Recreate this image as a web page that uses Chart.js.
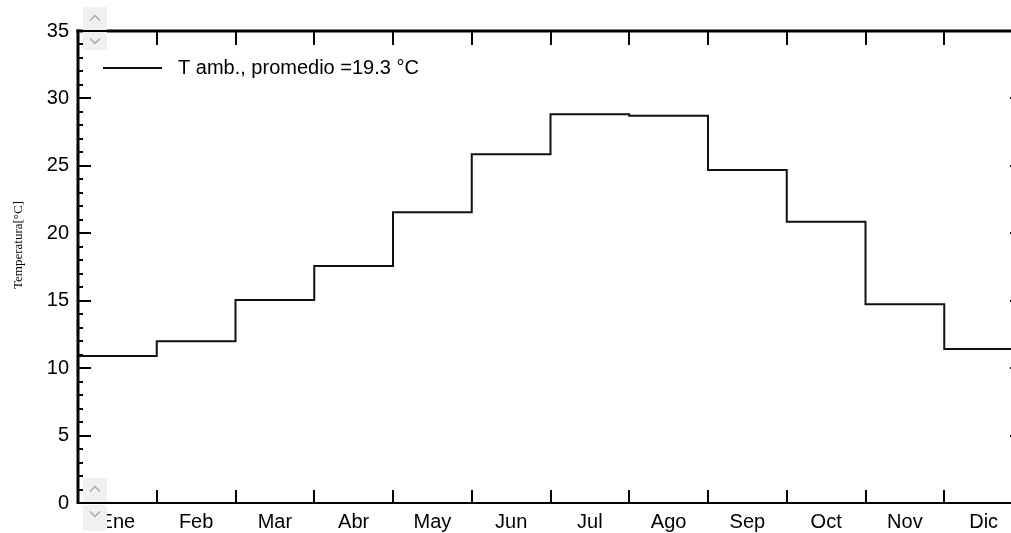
<!DOCTYPE html>
<html>
<head>
<meta charset="utf-8">
<script src="https://cdn.jsdelivr.net/npm/chart.js@4.4.1/dist/chart.umd.min.js"></script>
<style>
    html, body { margin: 0; padding: 0; background: #fff; overflow: hidden; }
    #wrap { width: 1040px; height: 533px; position: relative; }
</style>
</head>
<body>
<div id="wrap"><canvas id="chart"></canvas></div>
<script>
const months = ["Ene", "Feb", "Mar", "Abr", "May", "Jun", "Jul", "Ago", "Sep", "Oct", "Nov", "Dic"];
const tAmb = [10.9, 12.0, 15.05, 17.57, 21.56, 25.86, 28.82, 28.72, 24.69, 20.86, 14.73, 11.42];
const seriesLabel = "T amb., promedio =19.3 °C";
const yTitle = "Temperatura[°C]";
const yMin = 0;
const yMax = 35;
const yStep = 5;

const sansFont = "'Liberation Sans', Arial, sans-serif";
const serifFont = "'Liberation Serif', 'Times New Roman', serif";

// step points: each month holds its value until the next boundary
const stepPoints = tAmb.map((v, i) => ({ x: i, y: v }));
stepPoints.push({ x: months.length, y: tAmb[tAmb.length - 1] });

function line(ctx, x1, y1, x2, y2) {
    ctx.beginPath();
    ctx.moveTo(x1, y1);
    ctx.lineTo(x2, y2);
    ctx.stroke();
}

function chevron(ctx, cx, cy, up) {
    const d = up ? -1 : 1;
    ctx.beginPath();
    ctx.moveTo(cx - 5, cy - 2.5 * d);
    ctx.lineTo(cx, cy + 2.5 * d);
    ctx.lineTo(cx + 5, cy - 2.5 * d);
    ctx.stroke();
}

const framePlugin = {
    id: "frame",
    afterDraw(chart) {
        const { ctx, chartArea: a, scales } = chart;
        const xs = scales.x;
        const ys = scales.y;
        ctx.save();
        ctx.strokeStyle = "#000";
        ctx.lineCap = "butt";

        // frame
        ctx.lineWidth = 3;
        line(ctx, a.left - 1.5, a.top, a.right, a.top);
        line(ctx, a.left, a.top - 1.5, a.left, a.bottom + 1);
        ctx.lineWidth = 2;
        line(ctx, a.left, a.bottom, a.right, a.bottom);
        line(ctx, a.right, a.top, a.right, a.bottom);

        // month boundary ticks, pointing inward
        ctx.lineWidth = 2;
        for (let i = 1; i < months.length; i++) {
            const px = Math.round(xs.getPixelForValue(i));
            line(ctx, px, a.top, px, a.top + 14);
            line(ctx, px, a.bottom, px, a.bottom - 13);
        }

        // y ticks, major every 5, minor every 1
        for (let v = yMin + 1; v < yMax; v++) {
            const py = Math.round(ys.getPixelForValue(v));
            const len = v % yStep === 0 ? 13 : 5;
            line(ctx, a.left, py, a.left + len, py);
            line(ctx, a.right, py, a.right - len, py);
        }

        // legend
        const ds = chart.data.datasets[0];
        ctx.lineWidth = 2;
        ctx.strokeStyle = ds.borderColor;
        line(ctx, a.left + 25, a.top + 37, a.left + 84, a.top + 37);
        ctx.fillStyle = "#000";
        ctx.font = "20px " + sansFont;
        ctx.textAlign = "left";
        ctx.textBaseline = "middle";
        ctx.fillText(ds.label, a.left + 100, a.top + 37);

        // y title, rotated
        ctx.save();
        ctx.translate(19, 245);
        ctx.rotate(-Math.PI / 2);
        ctx.font = "13px " + serifFont;
        ctx.textAlign = "center";
        ctx.textBaseline = "middle";
        ctx.fillText(yTitle, 0, 0);
        ctx.restore();

        // scroll buttons at top and bottom of the axis
        const boxes = [
            [7, 23, true], [32, 18, false],
            [478, 24, true], [505, 26, false]
        ];
        for (const [top, h, up] of boxes) {
            ctx.fillStyle = "#f0f0f0";
            ctx.fillRect(a.left + 5, top, 24, h);
            ctx.strokeStyle = "#a8a8a8";
            ctx.lineWidth = 1.5;
            chevron(ctx, a.left + 17, top + (up ? 11 : 9), up);
        }
        ctx.restore();
    }
};

new Chart(document.getElementById("chart"), {
    type: "line",
    data: {
        datasets: [{
            label: seriesLabel,
            data: stepPoints,
            stepped: true,
            borderColor: "#111",
            borderWidth: 2,
            pointRadius: 0,
            fill: false
        }]
    },
    options: {
        responsive: true,
        maintainAspectRatio: false,
        animation: false,
        parsing: false,
        layout: { padding: { top: 31, right: 17, left: 0, bottom: 0 } },
        plugins: {
            legend: { display: false },
            tooltip: { enabled: false }
        },
        scales: {
            x: {
                type: "linear",
                min: 0,
                max: months.length,
                afterFit: (scale) => { scale.height = 30; },
                afterBuildTicks: (scale) => {
                    scale.ticks = months.map((m, i) => ({ value: i + 0.5 }));
                },
                grid: { display: false, drawTicks: false },
                border: { display: false },
                ticks: {
                    autoSkip: false,
                    maxRotation: 0,
                    padding: 7,
                    color: "#000",
                    font: { family: sansFont, size: 20 },
                    callback: (value) => months[Math.floor(value)]
                }
            },
            y: {
                min: yMin,
                max: yMax,
                afterFit: (scale) => { scale.width = 78; },
                grid: { display: false, drawTicks: false },
                border: { display: false },
                ticks: {
                    stepSize: yStep,
                    padding: 9,
                    color: "#000",
                    font: { family: sansFont, size: 20 }
                }
            }
        }
    },
    plugins: [framePlugin]
});
</script>
</body>
</html>
